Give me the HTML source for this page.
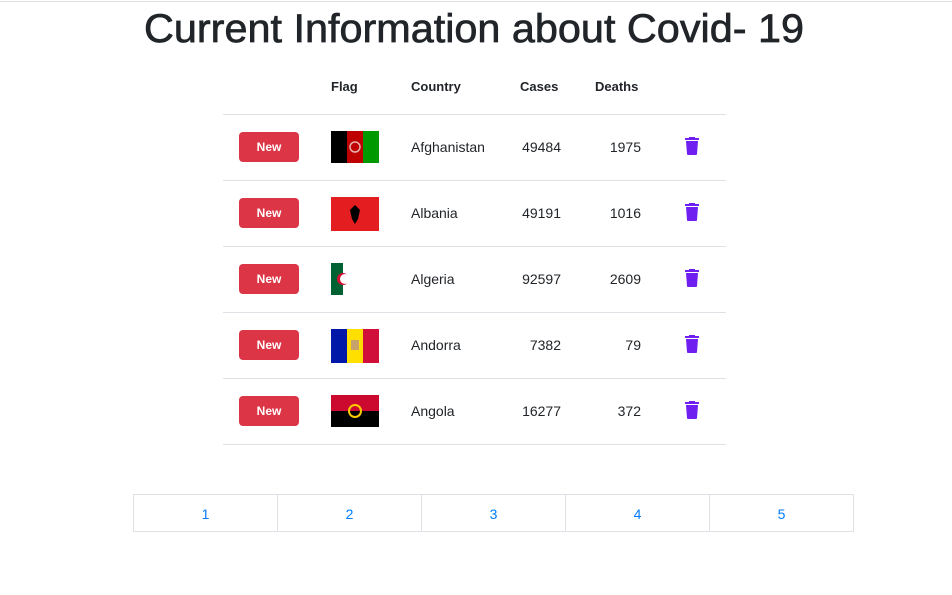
<!DOCTYPE html>
<html><head><meta charset="utf-8"><style>
body{margin:0;width:952px;height:595px;background:#fff;position:relative;font-family:"Liberation Sans",Arial,sans-serif;color:#212529;overflow:hidden}
.abs{position:absolute}
.hline{position:absolute;left:223px;width:503px;height:1px;background:#dee2e6}
.th{position:absolute;top:79px;font-weight:bold;font-size:13px}
.btn{position:absolute;left:239px;width:60px;height:30px;background:#dc3545;border-radius:4px;color:#fff;font-weight:bold;font-size:12px;text-align:center;line-height:30px}
.td{position:absolute;font-size:14px;line-height:16px}
.num{text-align:right;width:70px}
.trash{position:absolute;left:685px;width:14px;height:18px}
.pg{position:absolute;top:494px;height:38px;width:145px;border:1px solid #dee2e6;color:#007bff;font-size:14px;text-align:center;line-height:38px;box-sizing:border-box}
</style></head><body>
<div class="abs" style="left:0;top:1px;width:952px;height:1px;background:#dee2e6"></div>
<svg class="abs" style="left:0;top:0" width="952" height="60"><text x="144" y="42" textLength="660" lengthAdjust="spacingAndGlyphs" font-family="Liberation Sans, sans-serif" font-size="40" fill="#212529" stroke="#212529" stroke-width="0.7">Current Information about Covid- 19</text></svg>
<div class="th" style="left:331px">Flag</div>
<div class="th" style="left:411px">Country</div>
<div class="th" style="left:520px">Cases</div>
<div class="th" style="left:595px">Deaths</div>
<div id="rows"></div>
<div class="pg" style="left:133px">1</div>
<div class="pg" style="left:277px">2</div>
<div class="pg" style="left:421px">3</div>
<div class="pg" style="left:565px">4</div>
<div class="pg" style="left:709px">5</div>
<script>
const countries=["Afghanistan","Albania","Algeria","Andorra","Angola"];
const cases=[49484,49191,92597,7382,16277];
const deaths=[1975,1016,2609,79,372];
const flags=[
'<svg width="48" height="32"><rect width="16" height="32" fill="#000"/><rect x="16" width="16" height="32" fill="#be0000"/><rect x="32" width="16" height="32" fill="#009900"/><circle cx="24" cy="16" r="5" fill="none" stroke="#e8b0b0" stroke-width="1.5"/></svg>',
'<svg width="48" height="34"><rect width="48" height="34" fill="#e41e20"/><path d="M24 8 L29 13 L27 22 L24 27 L21 22 L19 13 Z" fill="#000"/></svg>',
'<svg width="24" height="32"><rect width="12" height="32" fill="#006233"/><rect x="12" width="12" height="32" fill="#fff"/><circle cx="12" cy="16" r="6" fill="#d21034"/><circle cx="14" cy="16" r="5" fill="#fff"/></svg>',
'<svg width="48" height="34"><rect width="16" height="34" fill="#0018a8"/><rect x="16" width="16" height="34" fill="#fedf00"/><rect x="32" width="16" height="34" fill="#d0103a"/><rect x="20" y="11" width="8" height="10" fill="#c7a26b"/></svg>',
'<svg width="48" height="32"><rect width="48" height="16" fill="#cc092f"/><rect y="16" width="48" height="16" fill="#000"/><circle cx="24" cy="16" r="6" fill="none" stroke="#ffcb00" stroke-width="2"/></svg>'];
const root=document.getElementById('rows');
const top0=114,rh=66;
let l=document.createElement('div');l.className='hline';l.style.top=top0+'px';


root.appendChild(l);
countries.forEach((c,i)=>{
 const y=top0+i*rh, cy=y+33;
 const b=document.createElement('div');b.className='btn';b.style.top=(cy-15)+'px';b.textContent='New';
 
 
 root.appendChild(b);
 const f=document.createElement('div');f.className='abs';f.style.left='331px';f.style.top=(cy-16)+'px';f.innerHTML=flags[i];
 
 
 root.appendChild(f);
 const n=document.createElement('div');n.className='td';n.style.left='411px';n.style.top=(cy-8)+'px';n.textContent=c;
 
 
 root.appendChild(n);
 const cs=document.createElement('div');cs.className='td num';cs.style.left='491px';cs.style.top=(cy-8)+'px';cs.textContent=cases[i];
 
 
 root.appendChild(cs);
 const d=document.createElement('div');d.className='td num';d.style.left='571px';d.style.top=(cy-8)+'px';d.textContent=deaths[i];
 
 
 root.appendChild(d);
 const t=document.createElement('div');t.className='trash';t.style.top=(cy-10)+'px';
 t.innerHTML='<svg width="14" height="18"><rect x="0" y="1" width="14" height="2" fill="#6f1ff0"/><rect x="4" y="0" width="6" height="2" fill="#6f1ff0"/><path d="M1 4 H13 L12 17 Q12 18 11 18 H3 Q2 18 2 17 Z" fill="#6f1ff0"/></svg>';
 
 
 root.appendChild(t);
 const hl=document.createElement('div');hl.className='hline';hl.style.top=(y+rh)+'px';
 
 
 root.appendChild(hl);
});
</script>
</body></html>
